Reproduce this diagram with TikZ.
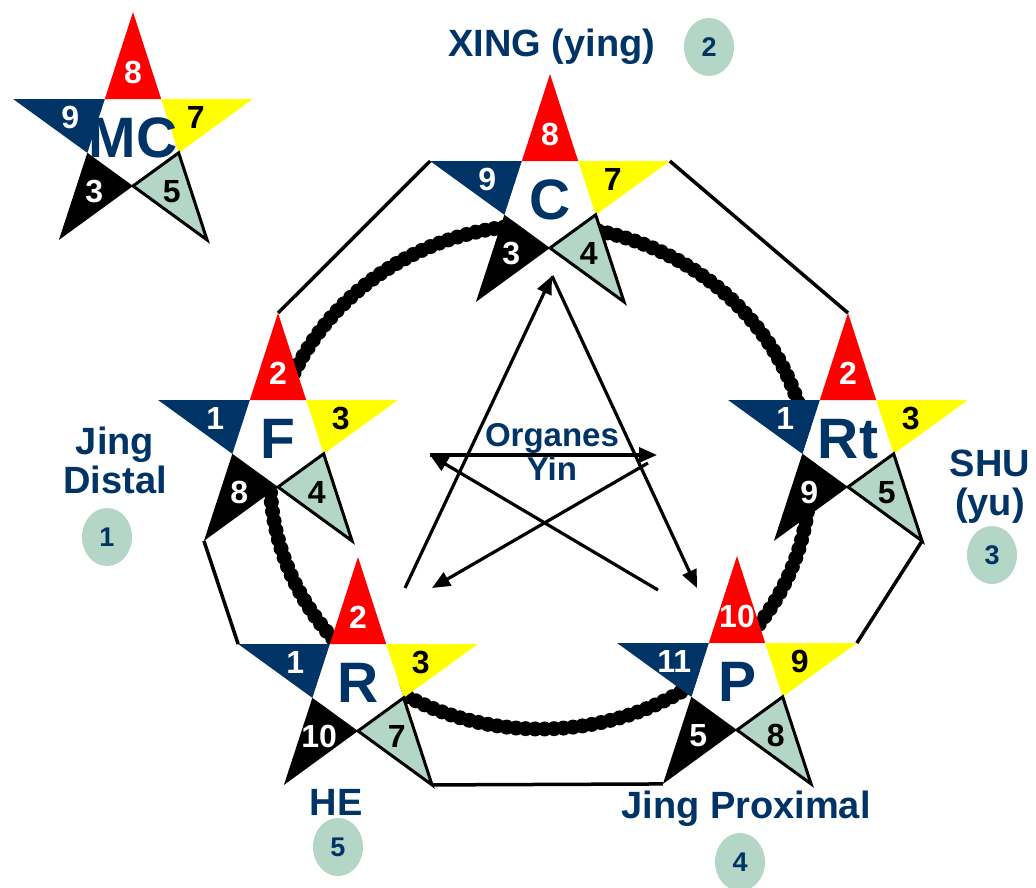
\documentclass[tikz,border=0pt]{standalone}
\usepackage{fontspec}
\setmainfont{Liberation Sans}
\usepackage{tikz}
\usetikzlibrary{arrows.meta}
\usetikzlibrary{shapes.geometric}
\definecolor{navy}{HTML}{003366}
\definecolor{jade}{RGB}{179,214,198}
\definecolor{fire}{RGB}{255,0,0}
\definecolor{lemon}{RGB}{255,255,0}
\tikzstyle{num}=[inner sep=0pt, font=\fontsize{32}{32}\selectfont\bfseries]
\tikzstyle{organ}=[inner sep=0pt, text=navy, font=\fontsize{57}{57}\selectfont\bfseries]
\tikzstyle{tag}=[inner sep=0pt, text=navy, align=center, font=\fontsize{38}{39}\selectfont\bfseries]
\tikzstyle{badge}=[ellipse, fill=jade, minimum width=50pt, minimum height=58pt, inner sep=0pt, text=navy, font=\fontsize{27}{27}\selectfont\bfseries]
\tikzstyle{arr}=[line width=3.2pt, -{Triangle[length=18pt,width=15pt]}]
\tikzstyle{rim}=[line width=3.5pt]
\tikzstyle{tipline}=[draw=black, line width=3pt, line join=miter]
\newcommand{\pentastar}[9]{
  \begin{scope}[shift={(#2,#3)}]
    \fill[white] (54:48) -- (126:48) -- (198:48) -- (270:48) -- (342:48) -- cycle;
    \fill[fire] (90:126) coordinate (#1-t) -- (54:48) -- (126:48) -- cycle;
    \fill[navy] (162:126) coordinate (#1-l) -- (126:48) -- (198:48) -- cycle;
    \fill[black] (234:126) coordinate (#1-bl) -- (198:48) -- (270:48) -- cycle;
    \fill[lemon] (18:126) coordinate (#1-r) -- (342:48) -- (54:48) -- cycle;
    \filldraw[fill=jade, tipline] (306:126) coordinate (#1-br) -- (270:48) -- (342:48) -- cycle;
    \node[organ] (#1) at (0,0) {#4};
    \node[num, text=white] (#1-1) at (90:66) {#5};
    \node[num, text=white] (#1-2) at (162:66) {#6};
    \node[num] (#1-3) at (18:66) {#7};
    \node[num, text=white] (#1-4) at (234:66) {#8};
    \node[num] (#1-5) at (306:66) {#9};
  \end{scope}
}

\begin{document}
\begin{tikzpicture}[x=1pt, y=1pt]
  \useasboundingbox (0,0) rectangle (1036,887);
  \fill[white] (0,0) rectangle (1036,887);
  \draw[line width=9pt] (540,410) ellipse [x radius=270, y radius=252];
  \draw[line width=15pt, line cap=round, dash pattern=on 0pt off 9.5pt] (540,410) ellipse [x radius=270, y radius=252];
  \pentastar{MC}{133}{749}{MC}{8}{9}{7}{3}{5}
  \pentastar{C}{550}{687}{C}{8}{9}{7}{3}{4}
  \pentastar{F}{278}{448}{F}{2}{1}{3}{8}{4}
  \pentastar{Rt}{848}{448}{Rt}{2}{1}{3}{9}{5}
  \pentastar{R}{358}{204}{R}{2}{1}{3}{10}{7}
  \pentastar{P}{737}{205}{P}{10}{11}{9}{5}{8}
  \draw[rim] (C-l) -- (F-t);
  \draw[rim] (C-r) -- (Rt-t);
  \draw[rim] (F-bl) -- (R-l);
  \draw[rim] (Rt-br) -- (P-r);
  \draw[rim] (R-br) -- (P-bl);
  \coordinate (yin1) at (405,299);
  \coordinate (yin2) at (552,611);
  \coordinate (yin3) at (697,299);
  \coordinate (yin4) at (658,297);
  \coordinate (yin5) at (430,432);
  \coordinate (yin6) at (657,432);
  \coordinate (yin7) at (648,424);
  \coordinate (yin8) at (432,299);
  \draw[arr] (yin1) -- (yin2);
  \draw[arr] (yin2) -- (yin3);
  \draw[arr] (yin4) -- (yin5);
  \draw[arr] (yin5) -- (yin6);
  \draw[arr] (yin7) -- (yin8);
  \node[tag, font=\fontsize{33}{34}\selectfont\bfseries] (yin) at (552,435) {Organes\\Yin};
  \node[tag] (lbl1) at (115,427) {Jing\\Distal};
  \node[tag, anchor=base] (lbl2) at (552,830) {XING (ying)};
  \node[tag] (lbl3) at (990,400) {SHU\\(yu)};
  \node[tag, anchor=base] (lbl4) at (746,69) {Jing Proximal};
  \node[tag, anchor=base] (lbl5) at (336,72) {HE};
  \node[badge] (bdg1) at (107,350) {1};
  \node[badge] (bdg2) at (709,840) {2};
  \node[badge] (bdg3) at (992,332) {3};
  \node[badge] (bdg4) at (740,25) {4};
  \node[badge] (bdg5) at (338,40) {5};
\end{tikzpicture}
\end{document}
